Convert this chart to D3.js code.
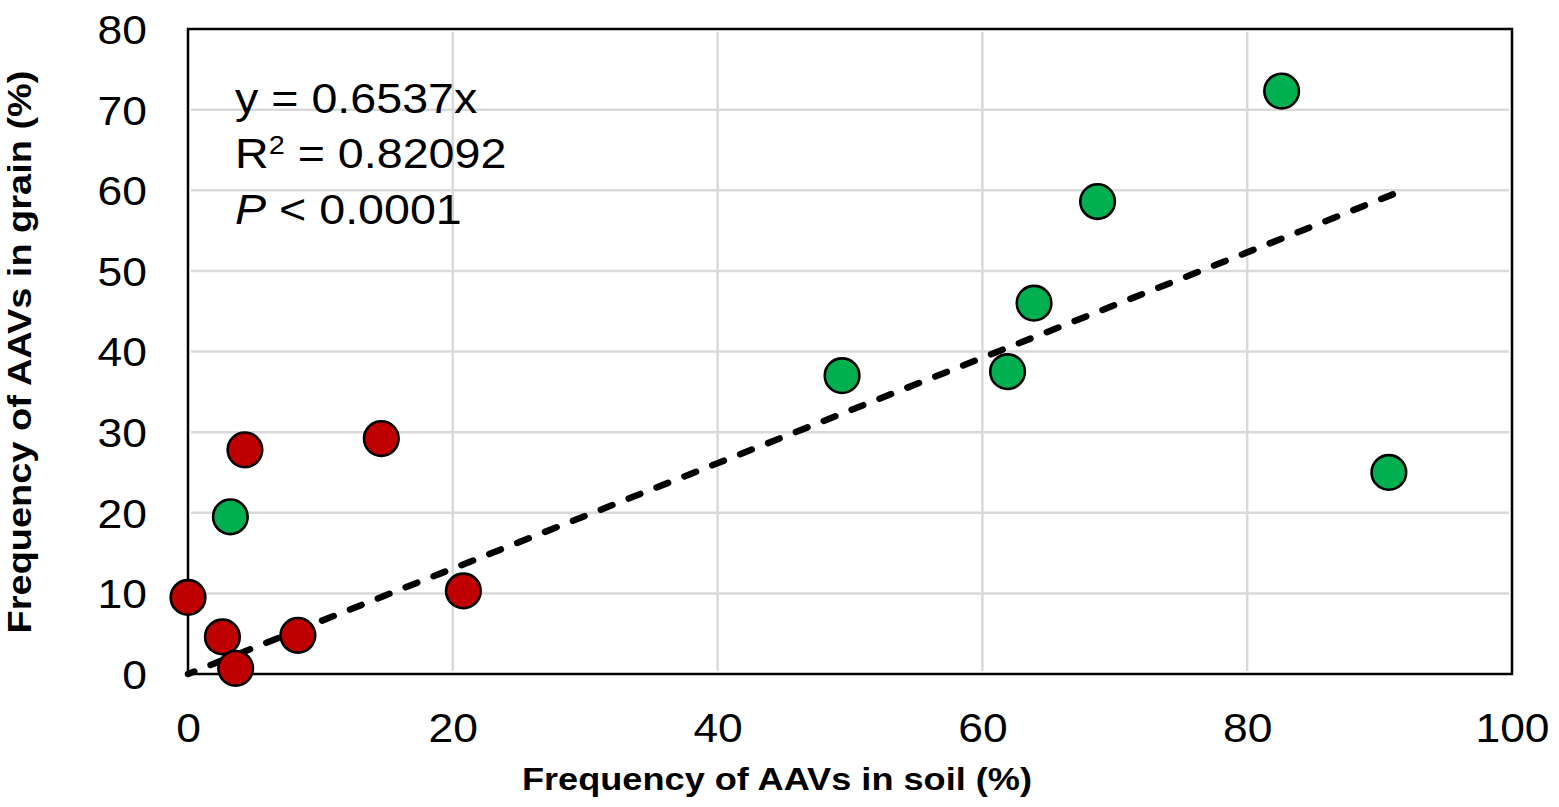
<!DOCTYPE html>
<html>
<head>
<meta charset="utf-8">
<script src="https://cdn.jsdelivr.net/npm/d3@7/dist/d3.min.js"></script>
<style>
  html, body { margin: 0; padding: 0; background: #fff; }
  svg { display: block; }
  text { font-family: "Liberation Sans", Arial, sans-serif; fill: #000; }
</style>
</head>
<body>
<svg id="chart" width="1559" height="807"></svg>
<script>
// ---- data ----
const soilRed   = [0, 2.6, 3.6, 8.3, 20.8, 4.3, 14.6];
const grainRed  = [9.5, 4.6, 0.7, 4.8, 10.3, 27.8, 29.2];
const soilGreen  = [3.2, 49.4, 61.9, 63.9, 68.7, 82.6, 90.7];
const grainGreen = [19.5, 37.0, 37.5, 46.0, 58.6, 72.3, 25.0];
const slope = 0.6537;
const xTicks = [0, 20, 40, 60, 80, 100];
const yTicks = [0, 10, 20, 30, 40, 50, 60, 70, 80];
const equationLines = ["y = 0.6537x", "R2 = 0.82092", "P < 0.0001"];
const xTitle = "Frequency of AAVs in soil (%)";
const yTitle = "Frequency of AAVs in grain (%)";

// ---- layout ----
const L = 188, R = 1512, T = 29, B = 674;
const svg = d3.select("#chart");
const x = d3.scaleLinear().domain([0, 100]).range([L, R]);
const y = d3.scaleLinear().domain([0, 80]).range([B, T]);
const STRETCH = 1.11;

// gridlines
const grid = svg.append("g");
grid.selectAll("line.v").data(xTicks.filter(d => d > 0 && d < 100)).join("line")
  .attr("x1", d => x(d)).attr("x2", d => x(d)).attr("y1", T + 3).attr("y2", B - 3)
  .attr("stroke", "#d9d9d9").attr("stroke-width", 2.5);
grid.selectAll("line.h").data(yTicks.filter(d => d > 0 && d < 80)).join("line")
  .attr("x1", L + 3).attr("x2", R - 3).attr("y1", d => y(d)).attr("y2", d => y(d))
  .attr("stroke", "#d9d9d9").attr("stroke-width", 2.5);

// axes (labels only)
const xAxis = svg.append("g").attr("transform", `translate(0,${B})`)
  .call(d3.axisBottom(x).tickValues(xTicks).tickSize(0).tickFormat(d3.format("d")));
xAxis.select(".domain").remove();
xAxis.selectAll("text").attr("y", 68).attr("dy", 0)
  .attr("font-size", 40).attr("font-family", "Liberation Sans, Arial, sans-serif")
  .attr("fill", "#000").attr("transform", `scale(${STRETCH},1)`);

const yAxis = svg.append("g").attr("transform", `translate(${L},0)`)
  .call(d3.axisLeft(y).tickValues(yTicks).tickSize(0).tickFormat(d3.format("d")));
yAxis.select(".domain").remove();
yAxis.selectAll("text").attr("x", -41 / STRETCH).attr("dy", "0.36em")
  .attr("font-size", 40).attr("font-family", "Liberation Sans, Arial, sans-serif")
  .attr("fill", "#000").attr("transform", `scale(${STRETCH},1)`);

// frame
svg.append("rect").attr("x", L).attr("y", T).attr("width", R - L).attr("height", B - T)
  .attr("fill", "none").attr("stroke", "#000").attr("stroke-width", 2.5);

// trendline (drawn from its end back to the origin so a dash sits at the end)
const allX = soilRed.concat(soilGreen);
const xMax = d3.max(allX) + 0.3;
svg.append("line")
  .attr("x1", x(xMax)).attr("y1", y(slope * xMax)).attr("x2", x(0)).attr("y2", y(0))
  .attr("stroke", "#000").attr("stroke-width", 6.5)
  .attr("stroke-dasharray", "12.5,17.5").attr("stroke-linecap", "round");

// points
const red = soilRed.map((s, i) => ({ s, g: grainRed[i] }));
const green = soilGreen.map((s, i) => ({ s, g: grainGreen[i] }));
svg.append("g").selectAll("circle").data(green).join("circle")
  .attr("cx", d => x(d.s)).attr("cy", d => y(d.g)).attr("r", 17.3)
  .attr("fill", "#00b050").attr("stroke", "#000").attr("stroke-width", 2.6);
svg.append("g").selectAll("circle").data(red).join("circle")
  .attr("cx", d => x(d.s)).attr("cy", d => y(d.g)).attr("r", 17.3)
  .attr("fill", "#c00000").attr("stroke", "#000").attr("stroke-width", 2.6);

// equation text
const eq = svg.append("g").attr("transform", `translate(235,0) scale(${STRETCH},1)`)
  .attr("font-size", 42);
eq.append("text").attr("x", 0).attr("y", 113).text(equationLines[0]);
const r2 = eq.append("text").attr("x", 0).attr("y", 168);
r2.append("tspan").text("R");
r2.append("tspan").attr("font-size", 26).attr("dy", -14).text("2");
r2.append("tspan").attr("dy", 14).text(" = 0.82092");
const pt = eq.append("text").attr("x", 0).attr("y", 224);
pt.append("tspan").attr("font-style", "italic").text("P");
pt.append("tspan").text(" < 0.0001");

// axis titles
svg.append("text").attr("transform", `translate(777,790) scale(1.13,1)`)
  .attr("text-anchor", "middle").attr("font-size", 32).attr("font-weight", "bold")
  .text(xTitle);
svg.append("text").attr("transform", `translate(31,352) rotate(-90) scale(1.15,1)`)
  .attr("text-anchor", "middle").attr("font-size", 33).attr("font-weight", "bold")
  .text(yTitle);
</script>
</body>
</html>
